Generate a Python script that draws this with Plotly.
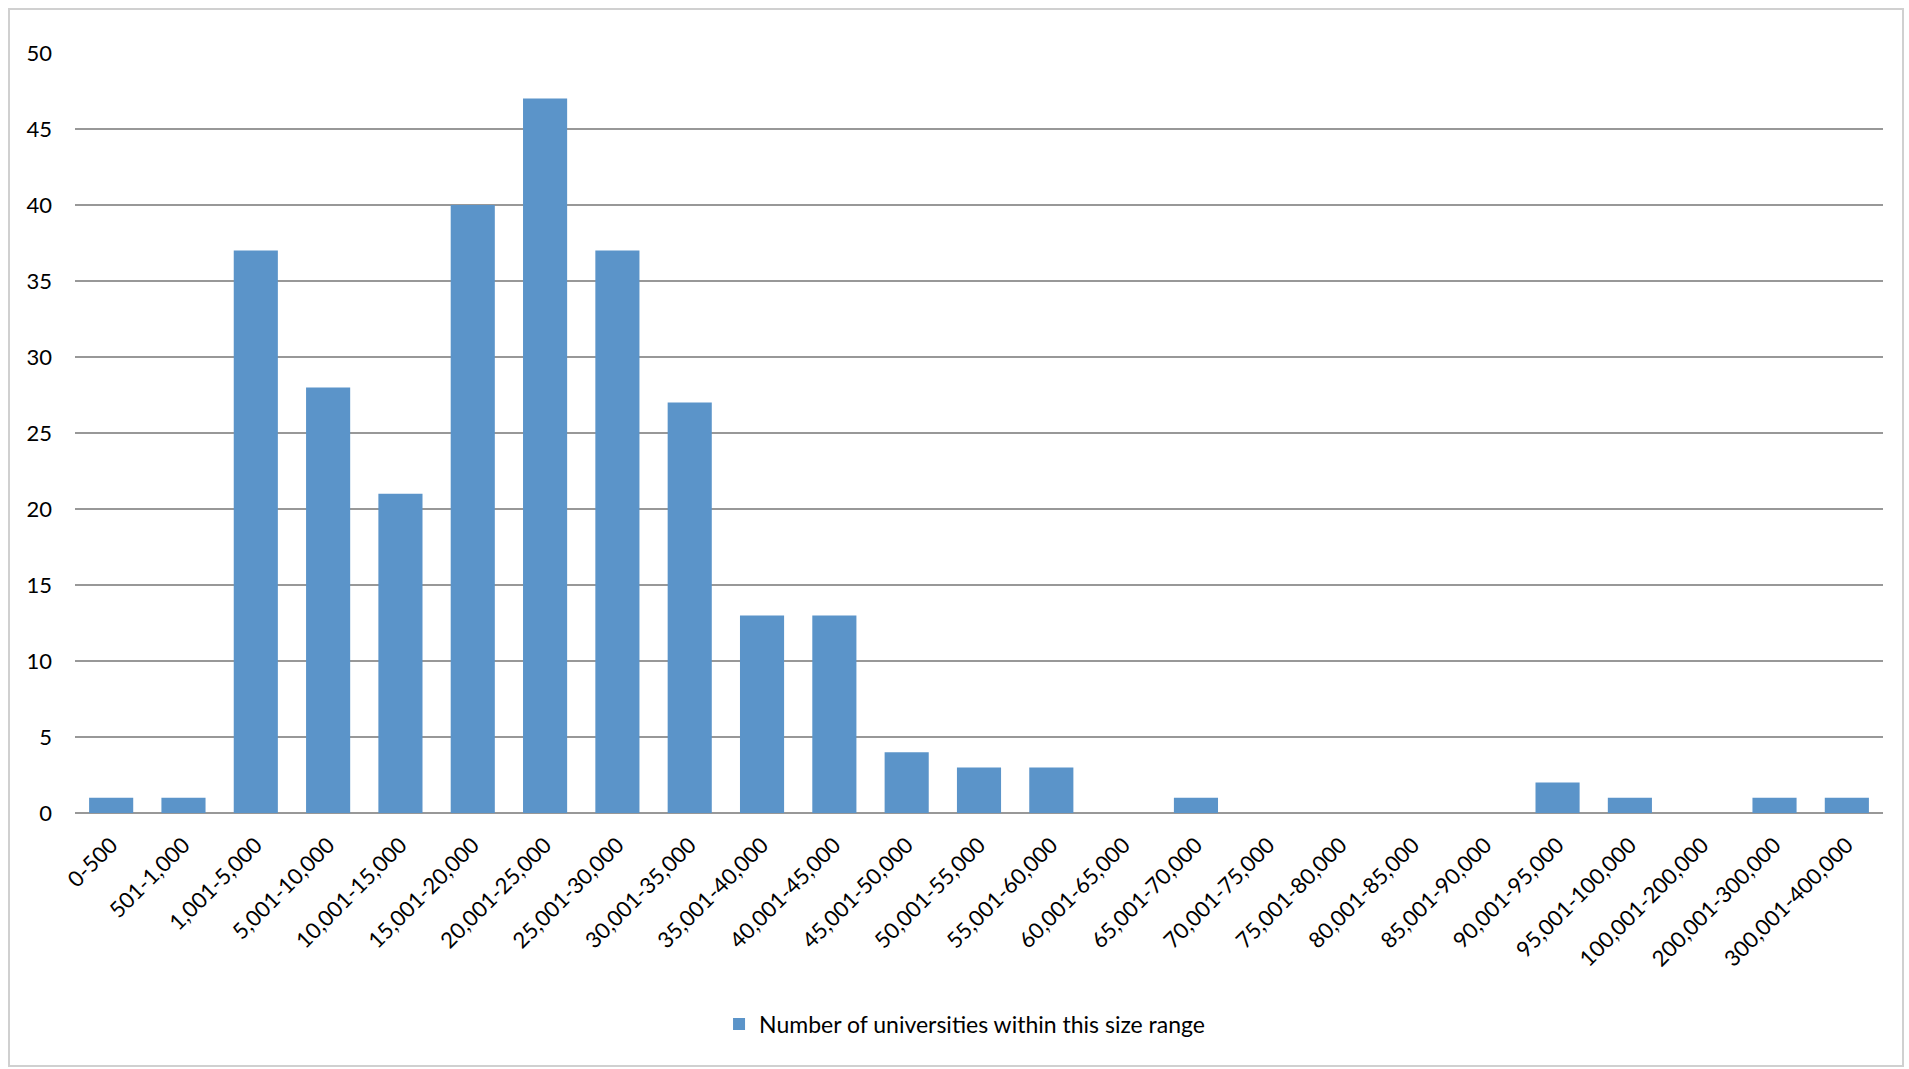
import plotly.graph_objects as go

categories = ["0-500", "501-1,000", "1,001-5,000", "5,001-10,000", "10,001-15,000",
              "15,001-20,000", "20,001-25,000", "25,001-30,000", "30,001-35,000",
              "35,001-40,000", "40,001-45,000", "45,001-50,000", "50,001-55,000",
              "55,001-60,000", "60,001-65,000", "65,001-70,000", "70,001-75,000",
              "75,001-80,000", "80,001-85,000", "85,001-90,000", "90,001-95,000",
              "95,001-100,000", "100,001-200,000", "200,001-300,000", "300,001-400,000"]
counts = [1, 1, 37, 28, 21, 40, 47, 37, 27, 13, 13, 4, 3, 3, 0, 1, 0, 0, 0, 0, 2, 1, 0, 1, 1]
series_name = "Number of universities within this size range"
y_ticks = [0, 5, 10, 15, 20, 25, 30, 35, 40, 45, 50]

W, H = 1909, 1069
L, R, T, B = 75, 26, 53, 256
pw, ph = W - L - R, H - T - B

def px_x(p):
    return (p - L) / pw

def px_y(p):
    return (H - B - p) / ph

font_family = "Lato, 'Open Sans', sans-serif"

fig = go.Figure()
fig.add_trace(go.Bar(
    x=categories, y=counts, name=series_name,
    marker=dict(color="#5B94C9", line=dict(width=0)),
    showlegend=True,
))

fig.update_layout(
    width=W, height=H,
    margin=dict(l=L, r=R, t=T, b=B, pad=0),
    paper_bgcolor="white", plot_bgcolor="white",
    font=dict(family=font_family, size=22, color="#000000"),
    bargap=0.39,
    showlegend=True,
    legend=dict(orientation="h", x=0.492, xanchor="center", y=px_y(1024), yanchor="middle",
                font=dict(size=23, color="#000000"), itemwidth=30,
                bgcolor="rgba(0,0,0,0)"),
    xaxis=dict(tickangle=-45, showgrid=False, showline=False, zeroline=False,
               ticks="", tickfont=dict(size=22), type="category", ticklabelstandoff=14),
    yaxis=dict(range=[0, 50], tickvals=y_ticks, showgrid=True, gridcolor="#989898",
               gridwidth=2, zeroline=True, zerolinecolor="#989898", zerolinewidth=2,
               showline=False, ticks="", tickfont=dict(size=22), ticklabelstandoff=22),
    shapes=[dict(type="rect", xref="paper", yref="paper",
                 x0=px_x(9), x1=px_x(1903), y0=px_y(1066), y1=px_y(9),
                 line=dict(color="#D0D0D0", width=2), fillcolor="rgba(0,0,0,0)",
                 layer="below")],
)

fig.write_html("out.html", config={"displayModeBar": False},
               post_script="document.body.style.margin='0';document.body.style.overflow='hidden';")
